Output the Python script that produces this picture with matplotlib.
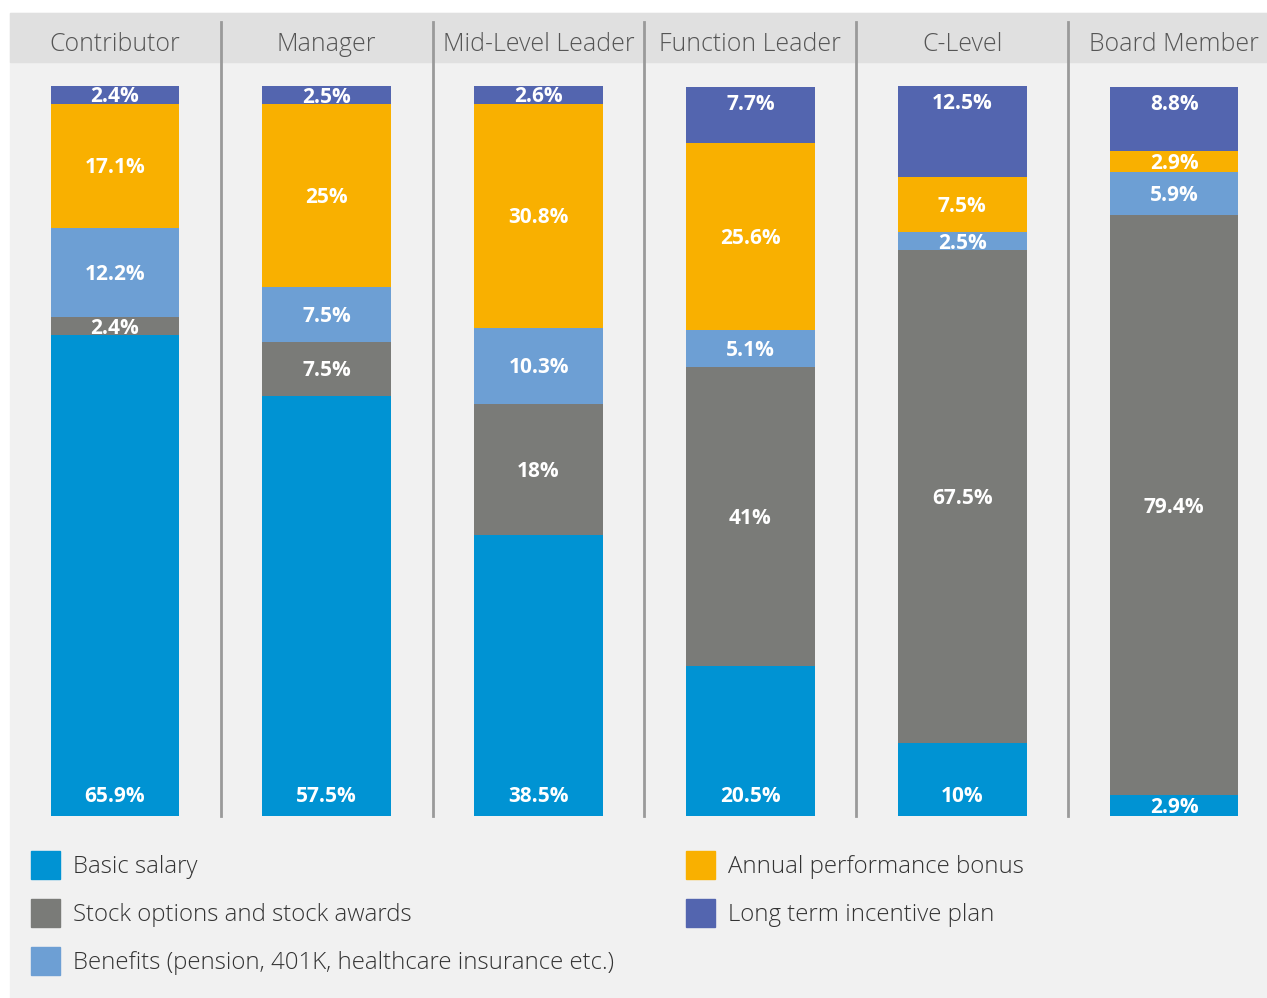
import matplotlib.pyplot as plt
from matplotlib.patches import Rectangle

# data (percent of total compensation)
levels = ["Contributor", "Manager", "Mid-Level Leader", "Function Leader", "C-Level", "Board Member"]
basic_salary = [65.9, 57.5, 38.5, 20.5, 10, 2.9]
stock_options = [2.4, 7.5, 18, 41, 67.5, 79.4]
benefits = [12.2, 7.5, 10.3, 5.1, 2.5, 5.9]
annual_bonus = [17.1, 25, 30.8, 25.6, 7.5, 2.9]
long_term = [2.4, 2.5, 2.6, 7.7, 12.5, 8.8]

series = [
    ("Basic salary", basic_salary, "#0093d3"),
    ("Stock options and stock awards", stock_options, "#7a7b78"),
    ("Benefits (pension, 401K, healthcare insurance etc.)", benefits, "#6d9fd4"),
    ("Annual performance bonus", annual_bonus, "#f9b000"),
    ("Long term incentive plan", long_term, "#5365af"),
]

W, H = 1267, 998
plt.rcParams['font.family'] = ['Open Sans', 'DejaVu Sans']
fig = plt.figure(figsize=(W / 100, H / 100), dpi=100)


def fx(px):
    return px / W


def fy(py):
    return 1 - py / H


# background panel + header band
fig.patches.append(Rectangle((fx(10), 0), fx(W - 10), fy(13), transform=fig.transFigure,
                             color="#f1f1f1", zorder=-2))
fig.patches.append(Rectangle((fx(10), fy(62)), fx(W - 10), 49 / H, transform=fig.transFigure,
                             color="#e0e0e0", zorder=-1))

ax = fig.add_axes([fx(10), fy(816), fx(W - 10), 730 / H])
ax.set_facecolor("none")
ax.set_xlim(-(115 - 10) / 212, 5 + (W - 1174) / 212)
ax.set_ylim(0, 100)
ax.axis("off")

px = 100 / 730  # one pixel in data units
x = list(range(len(levels)))
bottom = [0.0] * len(levels)
for idx, (name, vals, color) in enumerate(series):
    ax.bar(x, vals, bottom=bottom, width=0.608, color=color, zorder=2)
    for i, v in enumerate(vals):
        lo, hi = bottom[i], bottom[i] + v
        cy = (lo + hi) / 2
        if idx == 0:
            cy = min(cy, 2.9)
        elif idx == len(series) - 1:
            cy = max(cy, hi - 2.1)
        ax.text(i, cy - 2 * px, f"{v:g}%", ha="center", va="center", color="white",
                fontsize=15, fontweight="bold", zorder=3)
    bottom = [b + v for b, v in zip(bottom, vals)]

top_y = (816 - 22) / 730 * 100
head_y = (816 - 44) / 730 * 100
for i in range(len(levels) - 1):
    ax.plot([i + 0.5, i + 0.5], [0, top_y], color="#9a9a9a", lw=2, clip_on=False, zorder=1)
for i, name in enumerate(levels):
    ax.text(i, head_y, name, ha="center", va="center", fontsize=17.9,
            fontweight="light", color="#555555", clip_on=False)

# legend
legend_pos = [(31, 865), (31, 913), (31, 961), (686, 865), (686, 913)]
for (name, vals, color), (lx, ly) in zip(series, legend_pos):
    fig.patches.append(Rectangle((fx(lx), fy(ly + 14)), fx(29), 28 / H,
                                 transform=fig.transFigure, color=color, zorder=1))
    fig.text(fx(lx + 42), fy(ly + 2), name, ha="left", va="center", fontsize=17.3,
             fontweight="light", color="#333333")

fig.savefig("out.png", dpi=100)
